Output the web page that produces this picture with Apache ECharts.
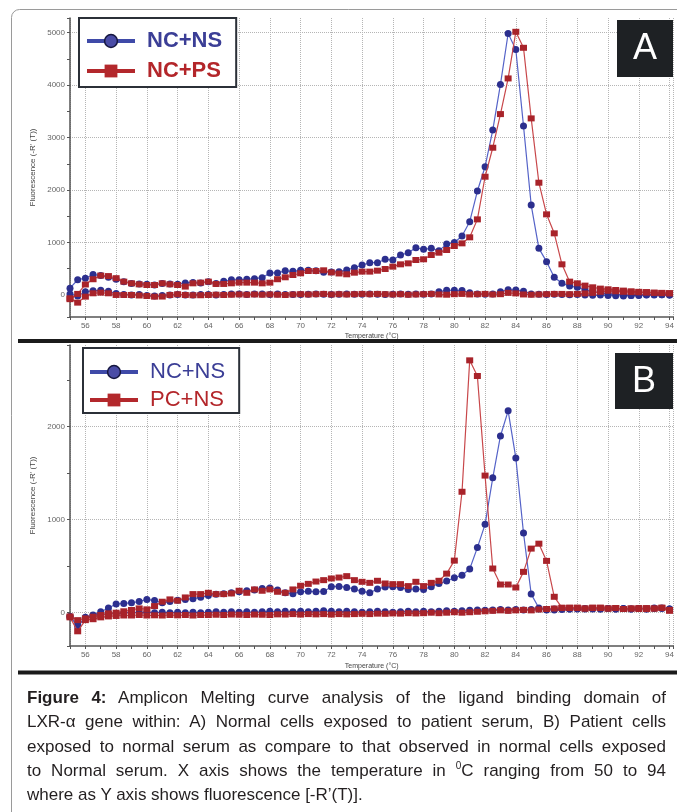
<!DOCTYPE html>
<html>
<head>
<meta charset="utf-8">
<title>Figure 4 - melting curves</title>
<script src="https://cdn.jsdelivr.net/npm/echarts@6.0.0/dist/echarts.min.js"></script>
<style>
    html, body { margin: 0; padding: 0; background: #fff; }
    #chart { position: absolute; left: 0; top: 0; width: 677px; height: 812px; }
    #caption {
        position: absolute; left: 27px; top: 686px; width: 639px;
        font-family: "Liberation Sans", Arial, sans-serif; font-size: 17px;
        line-height: 24.3px; color: #231f20;
    }
    #caption div { white-space: nowrap; text-align: justify; text-align-last: justify; }
    #caption div.last { text-align-last: left; }
    #caption sup { font-size: 10px; line-height: 0; }
</style>
</head>
<body>
<div id="chart"></div>
<div id="caption">
    <div><b>Figure 4:</b> Amplicon Melting curve analysis of the ligand binding domain of</div>
    <div>LXR-α gene within: A) Normal cells exposed to patient serum, B) Patient cells</div>
    <div>exposed to normal serum as compare to that observed in normal cells exposed</div>
    <div>to Normal serum. X axis shows the temperature in <sup>0</sup>C ranging from 50 to 94</div>
    <div class="last">where as Y axis shows fluorescence [-R’(T)].</div>
</div>
<script>
// temperature readings (°C), shared by both panels
var temps = [
    55, 55.5, 56, 56.5, 57, 57.5, 58, 58.5, 59, 59.5,
    60, 60.5, 61, 61.5, 62, 62.5, 63, 63.5, 64, 64.5,
    65, 65.5, 66, 66.5, 67, 67.5, 68, 68.5, 69, 69.5,
    70, 70.5, 71, 71.5, 72, 72.5, 73, 73.5, 74, 74.5,
    75, 75.5, 76, 76.5, 77, 77.5, 78, 78.5, 79, 79.5,
    80, 80.5, 81, 81.5, 82, 82.5, 83, 83.5, 84, 84.5,
    85, 85.5, 86, 86.5, 87, 87.5, 88, 88.5, 89, 89.5,
    90, 90.5, 91, 91.5, 92, 92.5, 93, 93.5, 94
];

// panel A
var aSampleNS = [
    130, 290, 320, 390, 370, 340, 300, 250, 220, 210,
    205, 190, 220, 210, 205, 230, 240, 230, 250, 220,
    260, 290, 290, 300, 310, 330, 420, 420, 460, 450,
    470, 470, 460, 435, 440, 445, 476, 520, 570, 615,
    615, 680, 665, 760, 805, 900, 870, 890, 845, 970,
    1000, 1124, 1397, 1981, 2445, 3143, 4013, 4985, 4680, 3220,
    1714, 889, 635, 337, 222, 171, 146, 95, 64, 40,
    20, 10, 0, -10, -10, 0, 10, 5, 0
];
var aSamplePS = [
    -80, 20, 200, 300, 370, 360, 320, 254, 222, 203,
    190, 190, 222, 203, 190, 160, 222, 235, 254, 210,
    210, 222, 235, 235, 235, 222, 235, 300, 337, 381,
    413, 457, 457, 470, 430, 410, 394, 425, 445, 445,
    463, 495, 540, 584, 603, 667, 680, 762, 806, 857,
    933, 984, 1099, 1441, 2254, 2807, 3448, 4128, 5017, 4712,
    3366, 2140, 1537, 1175, 584, 254, 222, 178, 146, 121,
    108, 95, 83, 70, 60, 55, 45, 40, 35
];
var aBlankNS = [
    20, -20, 60, 80, 90, 70, 30, 10, 0, 10,
    -10, -20, -10, 0, 10, 0, 0, 10, 10, 0,
    10, 20, 20, 10, 20, 20, 10, 20, 10, 10,
    10, 15, 20, 15, 10, 15, 20, 15, 15, 20,
    15, 10, 15, 20, 15, 20, 15, 20, 60, 90,
    90, 85, 40, 20, 15, 20, 60, 100, 95, 70,
    20, 15, 10, 15, 10, 5, 10, 0, -5, 0,
    -10, -15, -20, -10, 0, 5, 0, 5, 0
];
var aBlankPS = [
    -63, -146, -32, 32, 44, 32, 0, 0, 0, -10,
    -19, -32, -30, 0, 13, 0, -5, -5, 0, 5,
    0, 5, 10, 5, 10, 5, 10, 5, 0, 10,
    15, 10, 15, 20, 10, 15, 10, 15, 20, 15,
    20, 15, 10, 15, 5, 10, 15, 20, 10, 5,
    15, 20, 10, 15, 20, 10, 15, 40, 30, 10,
    5, 10, 15, 20, 20, 15, 20, 30, 40, 60,
    80, 70, 60, 55, 50, 45, 40, 35, 30
];

// panel B
var bSampleNS = [
    -43, -130, -60, -25, 11, 50, 93, 100, 107, 120,
    143, 130, 107, 120, 135, 143, 150, 165, 185, 198,
    205, 215, 225, 235, 245, 261, 265, 245, 214, 205,
    225, 230, 225, 228, 280, 282, 272, 255, 230, 214,
    255, 275, 278, 270, 250, 255, 250, 280, 314, 340,
    375, 403, 470, 700, 950, 1450, 1900, 2170, 1664, 857,
    200, 50, 30, 30, 35, 40, 40, 45, 40, 40,
    45, 40, 45, 40, 45, 40, 45, 50, 40
];
var bSamplePC = [
    -40, -80, -61, -43, -25, -7, 0, 15, 29, 46,
    36, 71, 118, 143, 129, 164, 200, 200, 214, 200,
    200, 207, 236, 214, 250, 236, 250, 225, 214, 250,
    290, 310, 335, 350, 368, 378, 393, 350, 332, 321,
    343, 314, 307, 307, 286, 332, 286, 321, 343, 420,
    560, 1300, 2713, 2545, 1474, 475, 303, 303, 271, 439,
    689, 742, 557, 171, 54, 50, 55, 45, 50, 55,
    45, 50, 40, 45, 50, 40, 45, 55, 20
];
var bBlankNS = [
    -40, -150, -50, -30, -20, -10, -5, 0, 5, 0,
    5, 0, 5, 0, 5, 0, 5, 0, 5, 10,
    5, 10, 5, 10, 5, 10, 15, 10, 15, 10,
    15, 10, 15, 20, 15, 10, 15, 10, 5, 10,
    15, 10, 5, 10, 15, 10, 15, 10, 15, 20,
    15, 20, 25, 30, 25, 30, 35, 30, 35, 30,
    35, 40, 35, 40, 45, 40, 45, 40, 45, 40,
    45, 40, 45, 40, 45, 40, 50, 45, 40
];
var bBlankPC = [
    -50, -200, -80, -70, -50, -40, -35, -30, -30, -25,
    -30, -28, -30, -25, -28, -25, -30, -25, -25, -22,
    -25, -20, -22, -25, -20, -22, -25, -18, -20, -15,
    -20, -15, -18, -15, -20, -15, -18, -15, -12, -15,
    -10, -12, -8, -10, -5, -8, -5, 0, -5, 0,
    5, 0, 5, 10, 15, 20, 25, 20, 25, 30,
    25, 35, 40, 45, 50, 55, 50, 45, 55, 50,
    45, 50, 40, 45, 40, 50, 45, 50, 30
];

var FONT = 'Liberation Sans';
var BLUE_LINE = '#5563c8', BLUE_DOT = '#2c2f8e';
var RED_LINE = '#c8474a', RED_DOT = '#a8232a';

var chart = echarts.init(document.getElementById('chart'));

function curve(name, vals, idx, blue) {
    return {
        name: name,
        type: 'line',
        xAxisIndex: idx,
        yAxisIndex: idx,
        data: temps.map(function(t, i) { return [t, vals[i]]; }),
        symbol: blue ? 'circle' : 'rect',
        symbolSize: blue ? 7 : [7, 6],
        showAllSymbol: true,
        lineStyle: { color: blue ? BLUE_LINE : RED_LINE, width: 1.2 },
        itemStyle: { color: blue ? BLUE_DOT : RED_DOT },
        emphasis: { disabled: true },
        z: blue ? 2 : 3
    };
}

function xAxisOpt(idx, gap) {
    return {
        type: 'value',
        gridIndex: idx,
        min: 55,
        max: 94.25,
        splitNumber: 20,
        name: 'Temperature (°C)',
        nameLocation: 'middle',
        nameGap: gap,
        nameTextStyle: { fontSize: 7, color: '#444', fontFamily: FONT },
        axisLine: { onZero: false, lineStyle: { color: '#555', width: 1.5 } },
        axisTick: { length: 3, lineStyle: { color: '#555' } },
        minorTick: { show: true, splitNumber: 2, length: 3, lineStyle: { color: '#555' } },
        axisLabel: {
            fontSize: 8, color: '#666', margin: 5, fontFamily: FONT,
            showMinLabel: false, showMaxLabel: false
        },
        splitLine: { show: true, lineStyle: { type: 'dotted', color: '#b5b5b5', width: 1 } }
    };
}

function yAxisOpt(idx, min, max, split) {
    return {
        type: 'value',
        gridIndex: idx,
        min: min,
        max: max,
        splitNumber: split,
        name: "Fluorescence (-R' (T))",
        nameLocation: 'middle',
        nameGap: 33,
        nameTextStyle: { fontSize: 8, color: '#444', fontFamily: FONT },
        axisLine: { show: true, lineStyle: { color: '#555', width: 1.5 } },
        axisTick: { show: true, length: 3, lineStyle: { color: '#555' } },
        minorTick: { show: true, splitNumber: 2, length: 3, lineStyle: { color: '#555' } },
        axisLabel: {
            fontSize: 8, color: '#666', margin: 5, fontFamily: FONT,
            showMinLabel: false, showMaxLabel: false,
            formatter: function(v) { return String(v); }
        },
        splitLine: {
            show: true, showMinLine: false, showMaxLine: false,
            lineStyle: { type: 'dotted', color: '#b5b5b5', width: 1 }
        }
    };
}

function legendOpt(left, top, pad, gap, bold, names) {
    return {
        left: left,
        top: top,
        orient: 'vertical',
        padding: pad,
        itemGap: gap,
        itemWidth: 48,
        itemHeight: 16,
        borderColor: '#2b3038',
        borderWidth: 2,
        backgroundColor: '#fff',
        selectedMode: false,
        textStyle: {
            fontSize: 22, fontFamily: FONT, fontWeight: bold ? 'bold' : 'normal',
            lineHeight: 24, padding: [0, 0, 0, 7]
        },
        data: [{
            name: names[0],
            itemStyle: { color: '#4a4ca6', borderColor: '#15163f', borderWidth: 1.5 },
            lineStyle: { color: '#3f4aa8', width: 4 },
            textStyle: { color: '#3b3e96' }
        }, {
            name: names[1],
            itemStyle: { color: '#b3282c', borderWidth: 0 },
            lineStyle: { color: '#b3282c', width: 4 },
            textStyle: { color: '#b3262a' }
        }]
    };
}

// black corner box with the panel letter
function panelTag(x, y, w, h, letter) {
    return [{
        type: 'rect',
        z: 120,
        shape: { x: x, y: y, width: w, height: h },
        style: { fill: '#1e2124' }
    }, {
        type: 'text',
        z: 121,
        x: x + w / 2,
        y: y + h / 2 + 1,
        style: {
            text: letter, fill: '#fff', font: '36px "Liberation Sans"',
            align: 'center', verticalAlign: 'middle'
        }
    }];
}

var option = {
    animation: false,
    backgroundColor: '#fff',
    grid: [
        { left: 70, top: 18, width: 607, height: 299 },
        { left: 70, top: 345, width: 607, height: 301 }
    ],
    xAxis: [xAxisOpt(0, 16), xAxisOpt(1, 17)],
    yAxis: [yAxisOpt(0, -420, 5280, 5), yAxisOpt(1, -358, 2878, 3)],
    legend: [
        legendOpt(79, 18, [11, 14, 4, 6], 6, true, ['NC+NS', 'NC+PS']),
        legendOpt(83, 348, [12, 14, 1, 5], 4, false, ['NC+NS', 'PC+NS'])
    ],
    series: [
        curve('NC+NS', aBlankNS, 0, true),
        curve('NC+NS', aSampleNS, 0, true),
        curve('NC+PS', aBlankPS, 0, false),
        curve('NC+PS', aSamplePS, 0, false),
        curve('NC+NS', bBlankNS, 1, true),
        curve('NC+NS', bSampleNS, 1, true),
        curve('PC+NS', bBlankPC, 1, false),
        curve('PC+NS', bSamplePC, 1, false)
    ],
    graphic: [
        // outer frame, running off the right edge
        {
            type: 'rect', z: 100, silent: true,
            shape: { x: 11.5, y: 9.5, width: 720, height: 860, r: 8 },
            style: { fill: 'none', stroke: '#9a9a9a', lineWidth: 1 }
        },
        // thick rules under each panel
        { type: 'rect', z: 110, shape: { x: 18, y: 339, width: 680, height: 4 }, style: { fill: '#1b1b1b' } },
        { type: 'rect', z: 110, shape: { x: 18, y: 670.5, width: 680, height: 4 }, style: { fill: '#1b1b1b' } }
    ].concat(panelTag(617, 20, 56, 57, 'A'), panelTag(615, 353, 58, 56, 'B'))
};

chart.setOption(option);
</script>
</body>
</html>
